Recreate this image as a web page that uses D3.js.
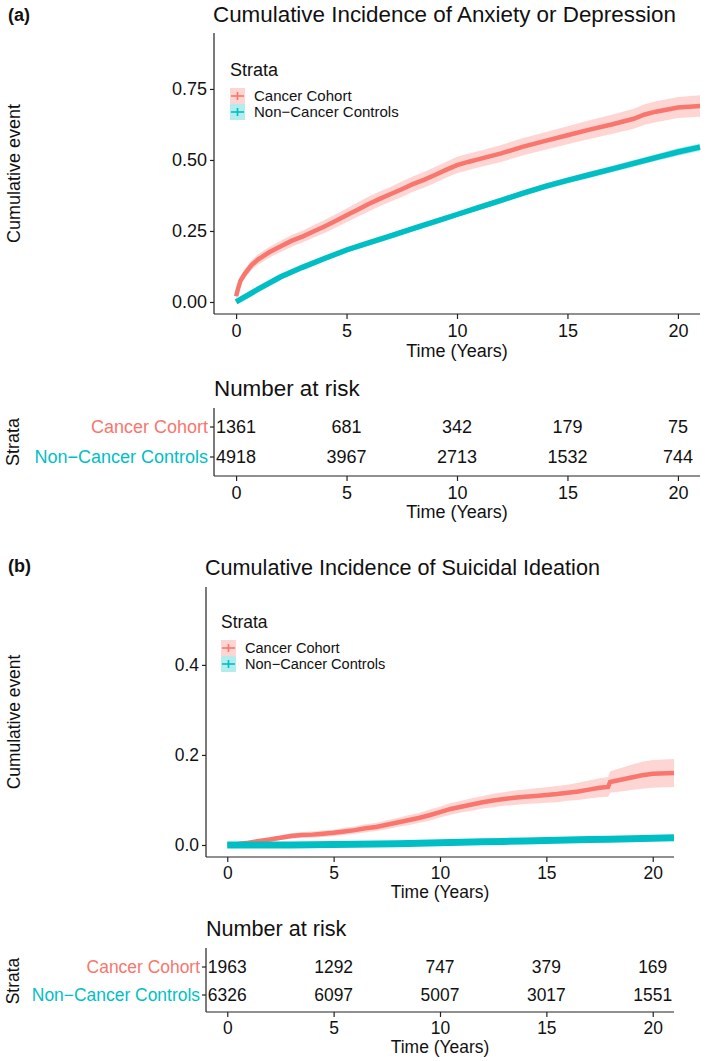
<!DOCTYPE html>
<html>
<head>
<meta charset="utf-8">
<script src="https://cdn.jsdelivr.net/npm/d3@7"></script>
<style>
  body { margin: 0; background: #fff; }
  svg text { font-family: "Liberation Sans", Arial, Helvetica, sans-serif; fill: #111; }
</style>
</head>
<body>
<div id="chart"></div>
<script>
// ---- data ----
const strata = ["Cancer Cohort", "Non\u2212Cancer Controls"];
const colors = ["#F8766D", "#00BFC4"];
const riskTimes = [0, 5, 10, 15, 20];
const xTicks = [0, 5, 10, 15, 20];

// (a) anxiety or depression
const aCancerTime = [0, 0.1, 0.2, 0.4, 0.7, 1, 1.5, 2, 2.5, 3, 3.5, 4, 4.5, 5, 5.5, 6, 6.5, 7, 7.5, 8, 8.5, 9, 9.5, 10, 10.5, 11, 12, 13, 14, 15, 16, 17, 18, 18.5, 19, 20, 21];
const aCancerEst  = [0.02, 0.05, 0.075, 0.10, 0.13, 0.15, 0.175, 0.195, 0.215, 0.23, 0.248, 0.266, 0.285, 0.305, 0.325, 0.345, 0.363, 0.38, 0.397, 0.415, 0.43, 0.447, 0.465, 0.482, 0.493, 0.503, 0.523, 0.547, 0.567, 0.587, 0.607, 0.625, 0.645, 0.66, 0.67, 0.685, 0.69];
const aCancerLo   = [0.008, 0.036, 0.06, 0.084, 0.113, 0.132, 0.156, 0.175, 0.194, 0.209, 0.226, 0.243, 0.261, 0.281, 0.3, 0.319, 0.337, 0.354, 0.37, 0.388, 0.402, 0.419, 0.437, 0.453, 0.464, 0.474, 0.493, 0.517, 0.536, 0.555, 0.574, 0.591, 0.61, 0.624, 0.633, 0.648, 0.652];
const aCancerHi   = [0.032, 0.064, 0.09, 0.116, 0.147, 0.168, 0.194, 0.215, 0.236, 0.251, 0.27, 0.289, 0.309, 0.329, 0.35, 0.371, 0.389, 0.406, 0.424, 0.442, 0.458, 0.475, 0.493, 0.511, 0.522, 0.532, 0.553, 0.577, 0.598, 0.619, 0.64, 0.659, 0.68, 0.696, 0.707, 0.722, 0.728];
const aCtrlTime = [0, 1, 2, 3, 4, 5, 6, 7, 8, 9, 10, 11, 12, 13, 14, 15, 16, 17, 18, 19, 20, 21];
const aCtrlEst  = [0, 0.045, 0.088, 0.122, 0.153, 0.183, 0.208, 0.233, 0.258, 0.283, 0.308, 0.333, 0.358, 0.383, 0.407, 0.428, 0.448, 0.468, 0.488, 0.508, 0.528, 0.545];
const aCtrlLo   = [0, 0.04, 0.082, 0.116, 0.146, 0.176, 0.201, 0.225, 0.25, 0.275, 0.3, 0.324, 0.349, 0.374, 0.397, 0.418, 0.437, 0.457, 0.476, 0.496, 0.515, 0.532];
const aCtrlHi   = [0, 0.05, 0.094, 0.128, 0.16, 0.19, 0.215, 0.241, 0.266, 0.291, 0.316, 0.342, 0.367, 0.392, 0.417, 0.438, 0.459, 0.479, 0.5, 0.52, 0.541, 0.558];
const aRiskCancer = [1361, 681, 342, 179, 75];
const aRiskCtrl   = [4918, 3967, 2713, 1532, 744];
const aYTicks = [0, 0.25, 0.5, 0.75];

// (b) suicidal ideation
const bCancerTime = [0, 0.5, 1, 1.5, 2, 2.5, 3, 3.5, 4, 4.5, 5, 5.5, 6, 6.5, 7, 7.5, 8, 8.5, 9, 9.5, 10, 10.5, 11, 11.5, 12, 12.5, 13, 13.5, 14, 14.5, 15, 15.5, 16, 16.5, 17, 17.5, 17.9, 18, 18.5, 19, 19.5, 20, 21];
const bCancerEst  = [0, 0.002, 0.005, 0.009, 0.012, 0.016, 0.02, 0.022, 0.023, 0.025, 0.027, 0.03, 0.033, 0.037, 0.04, 0.045, 0.05, 0.055, 0.06, 0.066, 0.073, 0.08, 0.085, 0.09, 0.095, 0.099, 0.102, 0.105, 0.107, 0.109, 0.111, 0.113, 0.116, 0.119, 0.123, 0.127, 0.129, 0.14, 0.145, 0.15, 0.155, 0.158, 0.16];
const bCancerLo   = [0, 0, 0.002, 0.005, 0.007, 0.011, 0.014, 0.016, 0.016, 0.018, 0.02, 0.022, 0.025, 0.028, 0.031, 0.035, 0.04, 0.044, 0.049, 0.054, 0.061, 0.067, 0.072, 0.076, 0.081, 0.084, 0.087, 0.089, 0.091, 0.092, 0.094, 0.095, 0.098, 0.1, 0.103, 0.106, 0.107, 0.116, 0.119, 0.122, 0.125, 0.127, 0.129];
const bCancerHi   = [0, 0.004, 0.008, 0.013, 0.017, 0.021, 0.026, 0.028, 0.03, 0.032, 0.034, 0.038, 0.041, 0.046, 0.049, 0.055, 0.06, 0.066, 0.071, 0.078, 0.085, 0.093, 0.098, 0.104, 0.109, 0.114, 0.117, 0.121, 0.123, 0.126, 0.128, 0.131, 0.134, 0.138, 0.143, 0.148, 0.151, 0.164, 0.171, 0.178, 0.185, 0.189, 0.191];
const bCtrlTime = [0, 1, 2, 3, 4, 5, 6, 7, 8, 9, 10, 11, 12, 13, 14, 15, 16, 17, 18, 19, 20, 21];
const bCtrlEst  = [0, 0, 0, 0, 0.0005, 0.001, 0.0015, 0.002, 0.003, 0.004, 0.005, 0.006, 0.007, 0.008, 0.009, 0.01, 0.011, 0.012, 0.013, 0.014, 0.015, 0.016];
const bCtrlLo   = [0, 0, 0, 0, 0, 0, 0, 0.0005, 0.0012, 0.002, 0.003, 0.0038, 0.0046, 0.0055, 0.0063, 0.0071, 0.008, 0.0088, 0.0096, 0.0105, 0.0113, 0.012];
const bCtrlHi   = [0, 0, 0, 0, 0.001, 0.002, 0.003, 0.0035, 0.0048, 0.006, 0.007, 0.0082, 0.0094, 0.0105, 0.0117, 0.0129, 0.014, 0.0152, 0.0164, 0.0175, 0.0187, 0.02];
const bRiskCancer = [1963, 1292, 747, 379, 169];
const bRiskCtrl   = [6326, 6097, 5007, 3017, 1551];
const bYTicks = [0, 0.2, 0.4];

const zip = (t, e, lo, hi) => t.map((d, i) => ({t: d, v: e[i], lo: lo[i], hi: hi[i]}));

const svg = d3.select("#chart").append("svg")
    .attr("width", 709)
    .attr("height", 1061);

function text(g, x, y, s, size, anchor, extra) {
    const t = g.append("text")
        .attr("x", x).attr("y", y).attr("dy", "0.35em")
        .attr("font-size", size)
        .attr("text-anchor", anchor || "start")
        .text(s);
    if (extra) extra(t);
    return t;
}

function styleAxis(a, fs) {
    a.select(".domain").remove();
    a.selectAll("text").attr("font-size", fs).attr("fill", "#111")
        .style("font-family", "'Liberation Sans', Arial, sans-serif");
    a.selectAll("line").attr("stroke", "#222").attr("stroke-width", 1.2);
}

function hline(g, x1, x2, y) {
    g.append("line").attr("x1", x1).attr("x2", x2).attr("y1", y).attr("y2", y)
        .attr("stroke", "#222").attr("stroke-width", 1.2);
}
function vline(g, x, y1, y2) {
    g.append("line").attr("x1", x).attr("x2", x).attr("y1", y1).attr("y2", y2)
        .attr("stroke", "#222").attr("stroke-width", 1.2);
}

function drawPanel(p) {
    const g = svg.append("g");
    const fs = 18 * p.scale;
    const x = d3.scaleLinear().domain([-1, 21]).range([p.left, p.right]);
    const y = d3.scaleLinear().domain(p.yDomain).range([p.bottom, p.top]);

    // tag and title
    text(g, 8, p.tagY, p.tag, 18, "start", t => t.attr("font-weight", "bold"));
    text(g, p.left - 1, p.titleY, p.title, p.titleSize);

    // bands then lines
    p.series.forEach((s, i) => {
        const area = d3.area().x(d => x(d.t)).y0(d => y(d.lo)).y1(d => y(d.hi));
        g.append("path").datum(s).attr("d", area)
            .attr("fill", colors[i]).attr("fill-opacity", 0.3);
    });
    p.series.forEach((s, i) => {
        const line = d3.line().x(d => x(d.t)).y(d => y(d.v));
        g.append("path").datum(s).attr("d", line)
            .attr("fill", "none").attr("stroke", colors[i])
            .attr("stroke-width", p.lineWidths[i]);
    });

    // axes
    const yAxis = g.append("g").attr("transform", `translate(${p.left},0)`)
        .call(d3.axisLeft(y).tickValues(p.yTicks).tickSize(4).tickPadding(3)
            .tickFormat(p.yFormat));
    const xAxis = g.append("g").attr("transform", `translate(0,${p.bottom})`)
        .call(d3.axisBottom(x).tickValues(xTicks).tickSize(5).tickPadding(5));
    styleAxis(yAxis, fs);
    styleAxis(xAxis, fs);
    vline(g, p.left, p.top, p.bottom);
    hline(g, p.left, p.right, p.bottom);

    text(g, x(10), p.xLabelY, "Time (Years)", fs, "middle");
    text(g, 0, 0, "Cumulative event", fs, "middle",
        t => t.attr("transform", `translate(14,${(p.top + p.bottom) / 2}) rotate(-90)`));

    // legend
    text(g, p.legX, p.legY, "Strata", 18 * p.scale);
    strata.forEach((s, i) => {
        const cy = p.legY + 26 + i * 16;
        const k = g.append("g").attr("transform", `translate(${p.legX},${cy})`);
        k.append("rect").attr("x", 0).attr("y", -8).attr("width", 15).attr("height", 16)
            .attr("fill", colors[i]).attr("fill-opacity", 0.3);
        k.append("line").attr("x1", 1).attr("x2", 14).attr("y1", 0).attr("y2", 0)
            .attr("stroke", colors[i]).attr("stroke-width", 1.6);
        k.append("line").attr("x1", 7.5).attr("x2", 7.5).attr("y1", -4).attr("y2", 4)
            .attr("stroke", colors[i]).attr("stroke-width", 1.6);
        text(g, p.legX + 24, cy, s, 15 * p.scale);
    });

    // risk table
    const r = p.risk;
    text(g, p.left, r.titleY, "Number at risk", p.titleSize);
    const rowY = d3.scalePoint().domain(strata).range(r.rows);
    vline(g, p.left, r.top, r.bottom);
    hline(g, p.left, p.right, r.bottom);
    strata.forEach((s, i) => {
        const yy = rowY(s);
        hline(g, p.left - 4, p.left, yy);
        text(g, p.left - 6, yy, s, fs, "end", t => t.style("fill", colors[i]));
        r.counts[i].forEach((n, j) => text(g, x(riskTimes[j]), yy, n, fs, "middle"));
    });
    const rAxis = g.append("g").attr("transform", `translate(0,${r.bottom})`)
        .call(d3.axisBottom(x).tickValues(xTicks).tickSize(5).tickPadding(5));
    styleAxis(rAxis, fs);
    text(g, x(10), r.xLabelY, "Time (Years)", fs, "middle");
    text(g, 0, 0, "Strata", fs, "middle",
        t => t.attr("transform", `translate(13,${(r.rows[0] + r.rows[1]) / 2}) rotate(-90)`));
}

drawPanel({
    tag: "(a)", tagY: 15, scale: 1,
    title: "Cumulative Incidence of Anxiety or Depression", titleY: 14, titleSize: 22.4,
    left: 214, right: 700, top: 33, bottom: 314,
    yDomain: [-0.0423, 0.947], yTicks: aYTicks, yFormat: d3.format(".2f"),
    lineWidths: [4.5, 5.5],
    series: [zip(aCancerTime, aCancerEst, aCancerLo, aCancerHi), zip(aCtrlTime, aCtrlEst, aCtrlLo, aCtrlHi)],
    xLabelY: 351,
    legX: 230, legY: 70,
    risk: { titleY: 388, rows: [427, 457], top: 408, bottom: 476, xLabelY: 512,
            counts: [aRiskCancer, aRiskCtrl] }
});

drawPanel({
    tag: "(b)", tagY: 566, scale: 0.97,
    title: "Cumulative Incidence of Suicidal Ideation", titleY: 567, titleSize: 21.6,
    left: 206, right: 674, top: 587, bottom: 857,
    yDomain: [-0.0267, 0.573], yTicks: bYTicks, yFormat: d3.format(".1f"),
    lineWidths: [4.5, 7],
    series: [zip(bCancerTime, bCancerEst, bCancerLo, bCancerHi), zip(bCtrlTime, bCtrlEst, bCtrlLo, bCtrlHi)],
    xLabelY: 892,
    legX: 221, legY: 622,
    risk: { titleY: 928, rows: [967, 995], top: 948, bottom: 1012, xLabelY: 1047,
            counts: [bRiskCancer, bRiskCtrl] }
});
</script>
</body>
</html>
